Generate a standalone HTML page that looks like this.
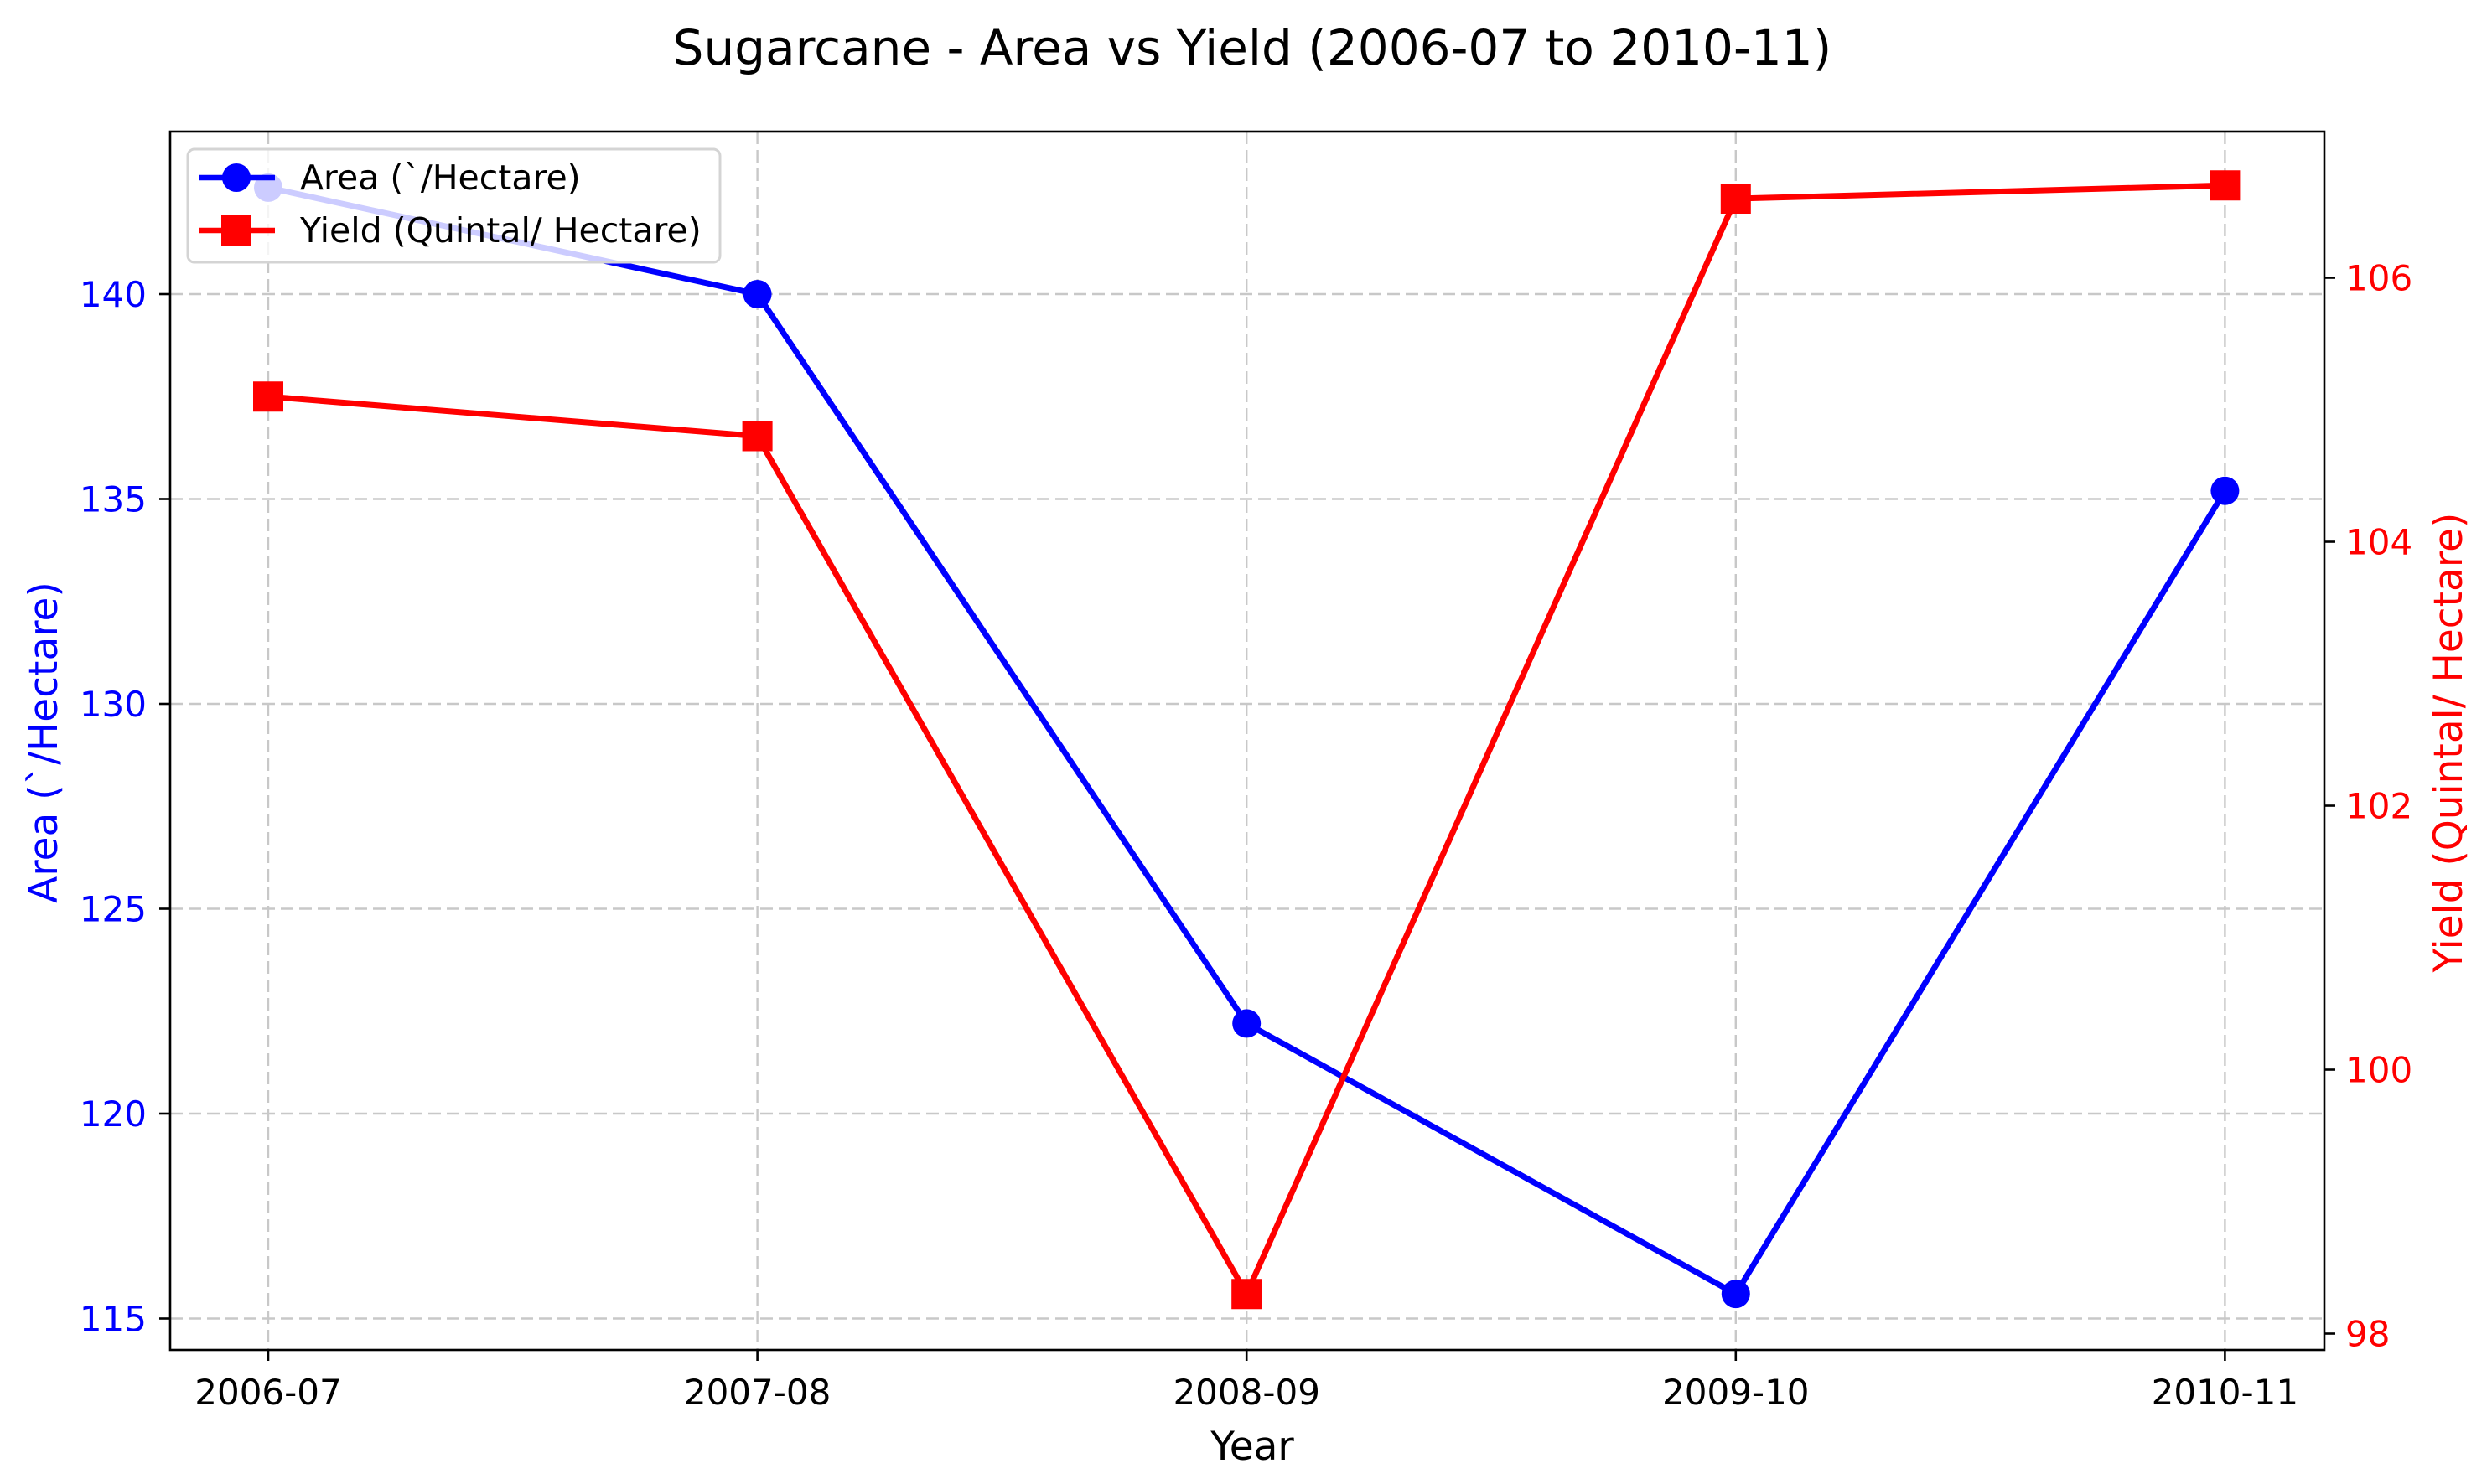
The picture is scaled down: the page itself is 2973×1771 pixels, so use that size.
<!DOCTYPE html>
<html><head><meta charset="utf-8"><style>
html,body{margin:0;padding:0;background:#fff}
svg{display:block;font-family:"DejaVu Sans","Liberation Sans",sans-serif}
</style></head><body>
<svg id="chart" width="2973" height="1771" viewBox="0 0 2973 1771" xmlns="http://www.w3.org/2000/svg">
<rect width="2973" height="1771" fill="#fff"/>
<text x="1494" y="77" font-size="58" text-anchor="middle" fill="#000">Sugarcane - Area vs Yield (2006-07 to 2010-11)</text>
<g id="grid"></g>
<g id="blue"></g>
<g id="legend">
<rect x="224" y="178" width="635" height="135" rx="8" fill="#fff" fill-opacity="0.8" stroke="#d4d4d4" stroke-width="3"/>
<g>
<line x1="237" y1="212" x2="328" y2="212" stroke="#0000ff" stroke-width="6.6"/>
<circle cx="282" cy="212" r="17" fill="#0000ff"/>
<text x="358" y="226" font-size="41" fill="#000">Area (`/Hectare)</text></g>
<g>
<line x1="237" y1="275" x2="328" y2="275" stroke="#ff0000" stroke-width="6.6"/>
<rect x="264" y="257" width="36" height="36" fill="#ff0000"/>
<text x="358" y="289" font-size="41" fill="#000">Yield (Quintal/ Hectare)</text></g>
</g>
<g id="red"></g>
<rect x="203" y="157" width="2570" height="1454" fill="none" stroke="#000" stroke-width="2.6"/>
<g id="axes"></g>
<text x="1494" y="1742" font-size="47" text-anchor="middle" fill="#000">Year</text>
<text transform="translate(68,886) rotate(-90)" font-size="47" text-anchor="middle" fill="#0000ff">Area (`/Hectare)</text>
<text transform="translate(2937,886) rotate(-90)" font-size="47" text-anchor="middle" fill="#ff0000">Yield (Quintal/ Hectare)</text>
</svg>
<script>
const categories = ["2006-07","2007-08","2008-09","2009-10","2010-11"];
const areaValues = [142.6, 140.0, 122.2, 115.6, 135.2];
const yieldValues = [105.1, 104.8, 98.3, 106.6, 106.7];
const areaTicks = [115, 120, 125, 130, 135, 140];
const yieldTicks = [98, 100, 102, 104, 106];

const NS = "http://www.w3.org/2000/svg";
const L = 203, R = 2773, T = 157, B = 1611;
function xPos(i){ return 320 + i * 583.6; }
function yArea(v){ return 351 + (140 - v) * 48.9; }
function yYield(v){ return 1591.5 - (v - 98) * 157.5; }
function mk(tag, attrs, parent){
  const e = document.createElementNS(NS, tag);
  for (const k in attrs) e.setAttribute(k, attrs[k]);
  parent.appendChild(e); return e;
}
const grid = document.getElementById('grid');
const axes = document.getElementById('axes');
const blue = document.getElementById('blue');
const red = document.getElementById('red');

categories.forEach((c, i) => {
  const x = xPos(i);
  const g = mk('line', {x1:x, y1:T, x2:x, y2:B, stroke:'#c8c8c8', 'stroke-width':2.4, 'stroke-dasharray':'15 7'}, grid);
  
  
  const t = mk('line', {x1:x, y1:B, x2:x, y2:B+13, stroke:'#000', 'stroke-width':2.6}, axes);
  
  
  const lb = mk('text', {x:x, y:1676, 'font-size':42, 'text-anchor':'middle', fill:'#000'}, axes);
  lb.textContent = c;
  
  
});
areaTicks.forEach(v => {
  const y = yArea(v);
  const g = mk('line', {x1:L, y1:y, x2:R, y2:y, stroke:'#c8c8c8', 'stroke-width':2.4, 'stroke-dasharray':'15 7'}, grid);
  
  
  const t = mk('line', {x1:L-13, y1:y, x2:L, y2:y, stroke:'#000', 'stroke-width':2.6}, axes);
  
  
  const lb = mk('text', {x:175, y:y+15, 'font-size':42, 'text-anchor':'end', fill:'#0000ff'}, axes);
  lb.textContent = v;
  
  
});
yieldTicks.forEach(v => {
  const y = yYield(v);
  const t = mk('line', {x1:R, y1:y, x2:R+13, y2:y, stroke:'#000', 'stroke-width':2.6}, axes);
  
  
  const lb = mk('text', {x:2798, y:y+15, 'font-size':42, 'text-anchor':'start', fill:'#ff0000'}, axes);
  lb.textContent = v;
  
  
});

const ap = mk('polyline', {points: areaValues.map((v,i)=>xPos(i)+','+yArea(v)).join(' '), fill:'none', stroke:'#0000ff', 'stroke-width':7, 'stroke-linejoin':'round'}, blue);


areaValues.forEach((v,i) => {
  const c = mk('circle', {cx:xPos(i), cy:yArea(v), r:17, fill:'#0000ff'}, blue);
  
  
});
const yp = mk('polyline', {points: yieldValues.map((v,i)=>xPos(i)+','+yYield(v)).join(' '), fill:'none', stroke:'#ff0000', 'stroke-width':7, 'stroke-linejoin':'round'}, red);


yieldValues.forEach((v,i) => {
  const s = mk('rect', {x:xPos(i)-18, y:yYield(v)-18, width:36, height:36, fill:'#ff0000'}, red);
  
  
});
</script>
</body></html>
